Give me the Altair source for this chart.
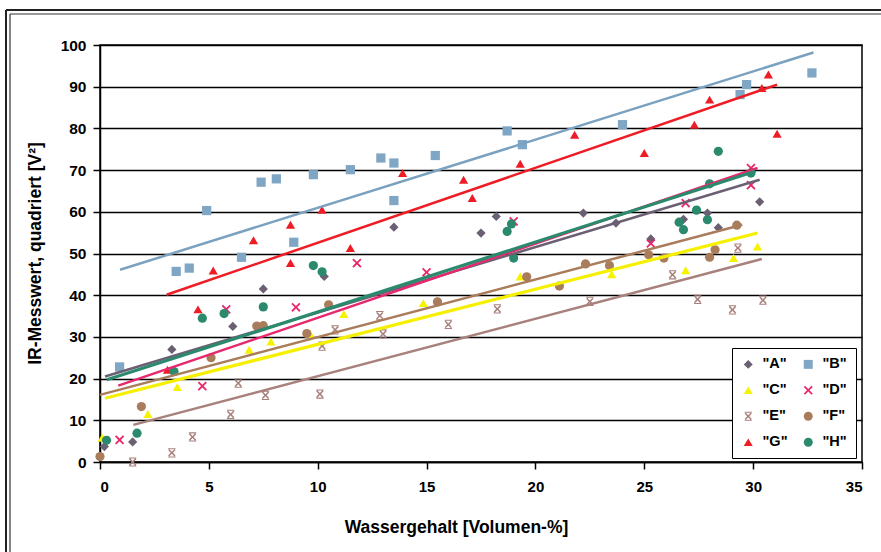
import altair as alt
import pandas as pd

# ---- data ----
series = ['"A"', '"B"', '"C"', '"D"', '"E"', '"F"', '"G"', '"H"']
colors = ["#6b5f73", "#7fa6c4", "#f7f300", "#e8286e", "#a8807c", "#a97c5b", "#ee1c25", "#2b8a6e"]
line_colors = ["#6b5f73", "#7aa2c0", "#f5f000", "#e8286e", "#a8807c", "#a97c5b", "#ee1c25", "#2b8a6e"]

X_PATH = "M-1,-0.72L-0.72,-1L0,-0.28L0.72,-1L1,-0.72L0.28,0L1,0.72L0.72,1L0,0.28L-0.72,1L-1,0.72L-0.28,0Z"
STAR_PATH = ("M-0.8,-0.6L-0.55,-0.8L0,-0.22L0.55,-0.8L0.8,-0.6L0.25,0L0.8,0.6L0.55,0.8L0,0.22L-0.55,0.8L-0.8,0.6L-0.25,0Z"
             "M-0.8,-1L0.8,-1L0.8,-0.78L-0.8,-0.78Z M-0.8,0.78L0.8,0.78L0.8,1L-0.8,1Z")
shapes = ["diamond", "square", "triangle-up", X_PATH, STAR_PATH, "circle", "triangle-up", "circle"]

A_x = [0.2, 1.5, 3.3, 6.1, 7.5, 10.3, 13.5, 17.5, 18.2, 22.2, 23.7, 25.3, 26.8, 27.9, 28.4, 30.3]
A_y = [3.7, 4.8, 27.0, 32.5, 41.5, 44.5, 56.3, 54.9, 58.9, 59.7, 57.3, 53.5, 58.2, 59.7, 56.2, 62.4]

B_x = [0.9, 3.5, 4.1, 4.9, 6.5, 7.4, 8.1, 8.9, 9.8, 11.5, 12.9, 13.5, 13.5, 15.4, 18.7, 19.4, 24.0, 29.4, 29.7, 32.7]
B_y = [22.8, 45.7, 46.5, 60.3, 49.1, 67.1, 67.9, 52.7, 68.9, 70.1, 72.9, 71.7, 62.7, 73.5, 79.4, 76.1, 80.9, 88.1, 90.5, 93.3]

C_x = [0.1, 2.2, 3.55, 6.85, 7.85, 9.65, 11.2, 14.85, 19.3, 23.5, 26.9, 29.1, 30.2]
C_y = [5.8, 11.5, 18.0, 26.9, 28.9, 30.7, 35.5, 38.1, 44.5, 45.0, 46.0, 48.9, 51.7]

D_x = [0.9, 4.7, 5.8, 9.0, 11.8, 15.0, 19.0, 25.3, 26.9, 29.9, 29.9]
D_y = [5.3, 18.2, 36.6, 37.1, 47.7, 45.5, 57.7, 52.4, 62.1, 66.4, 70.5]

E_x = [1.5, 3.3, 4.25, 6.0, 6.35, 7.6, 10.1, 10.2, 10.8, 12.85, 13.0, 16.0, 18.25, 22.5, 26.3, 27.45, 29.05, 29.3, 30.45]
E_y = [0.0, 2.2, 6.0, 11.4, 18.9, 16.0, 16.3, 27.8, 31.7, 35.1, 30.7, 33.0, 36.7, 38.5, 44.9, 39.0, 36.5, 51.3, 38.8]

F_x = [0.0, 1.9, 5.1, 7.2, 7.5, 9.5, 10.5, 15.5, 19.6, 21.1, 22.3, 23.4, 25.2, 25.9, 28.0, 28.25, 29.25]
F_y = [1.3, 13.3, 25.0, 32.6, 32.7, 30.8, 37.7, 38.4, 44.4, 42.2, 47.5, 47.1, 49.7, 48.9, 49.1, 50.9, 56.8]

G_x = [3.1, 4.5, 5.2, 7.05, 8.75, 8.75, 10.2, 11.5, 13.9, 16.7, 17.1, 19.3, 21.8, 25.0, 27.3, 28.0, 30.4, 30.7, 31.1]
G_y = [22.1, 36.6, 45.9, 53.2, 56.9, 47.7, 60.5, 51.3, 69.3, 67.7, 63.3, 71.5, 78.5, 74.1, 80.9, 86.9, 89.7, 92.9, 78.7]

H_x = [0.3, 1.7, 3.4, 4.7, 5.7, 7.5, 9.8, 10.2, 18.7, 18.9, 19.0, 26.6, 26.8, 27.4, 27.9, 28.0, 28.4, 29.9]
H_y = [5.2, 6.9, 21.7, 34.5, 35.6, 37.2, 47.1, 45.6, 55.3, 57.1, 48.9, 57.5, 55.7, 60.4, 58.1, 66.7, 74.5, 69.3]

# trend line end points (start x, start y, end x, end y)
trend_x0 = [0.23, 0.92, 0.23, 0.84, 1.53, 0.0, 3.06, 0.31]
trend_y0 = [20.5, 46.1, 15.3, 18.3, 8.9, 16.1, 40.1, 19.7]
trend_x1 = [30.3, 32.77, 30.2, 30.2, 30.4, 29.5, 31.1, 30.1]
trend_y1 = [67.7, 98.2, 54.9, 70.5, 48.7, 56.9, 90.5, 69.7]
trend_width = [2.5, 2.5, 3.2, 2.5, 2.5, 2.5, 2.5, 3.2]

xs = [A_x, B_x, C_x, D_x, E_x, F_x, G_x, H_x]
ys = [A_y, B_y, C_y, D_y, E_y, F_y, G_y, H_y]

rows = []
for s, xl, yl in zip(series, xs, ys):
    for xv, yv in zip(xl, yl):
        rows.append({"series": s, "x": xv, "y": yv})
pts = pd.DataFrame(rows)

trows = []
for i, s in enumerate(series):
    trows.append({"tseries": s, "x": trend_x0[i], "y": trend_y0[i], "order": 0, "w": trend_width[i]})
    trows.append({"tseries": s, "x": trend_x1[i], "y": trend_y1[i], "order": 1, "w": trend_width[i]})
trend = pd.DataFrame(trows)

# legend is filled column by column: order the domain so it reads A B / C D / E F / G H
legend_order = [0, 2, 4, 6, 1, 3, 5, 7]
dom = [series[i] for i in legend_order]
dom_colors = [colors[i] for i in legend_order]
dom_shapes = [shapes[i] for i in legend_order]

FONT = "Liberation Sans"

xscale = alt.Scale(domain=[0, 35], nice=False, zero=False)
yscale = alt.Scale(domain=[0, 100], nice=False)

xaxis = alt.Axis(values=list(range(0, 36, 5)), title="Wassergehalt [Volumen-%]", grid=False,
                 tickSize=7, tickColor="black", tickWidth=1.5, domainColor="black", domainWidth=1.5,
                 labelFont=FONT, labelFontSize=15, labelFontWeight="bold", labelColor="black", labelPadding=10,
                 titleFont=FONT, titleFontSize=17.5, titleFontWeight="bold", titleColor="black",
                 titleX=356, titleY=65, titleBaseline="middle")
yaxis = alt.Axis(values=list(range(0, 101, 10)), title="IR-Messwert, quadriert [V²]", grid=True,
                 gridColor="black", gridWidth=1.5, gridOpacity=1,
                 tickSize=7, tickColor="black", tickWidth=1.5, domainColor="black", domainWidth=1.5,
                 labelFont=FONT, labelFontSize=15.5, labelFontWeight="bold", labelColor="black", labelPadding=7,
                 titleFont=FONT, titleFontSize=17.5, titleFontWeight="bold", titleColor="black",
                 titleX=-65, titleY=208, titleAngle=-90, titleBaseline="middle", titleAlign="center")

legend = alt.Legend(orient="none", legendX=632, legendY=303, columns=2, title=None,
                    strokeColor="black", fillColor="white", padding=9,
                    labelFont=FONT, labelFontSize=14.5, labelFontWeight="bold",
                    labelColor="black", symbolSize=80, rowPadding=11,
                    columnPadding=13, symbolStrokeWidth=0, labelOffset=7)

# decorative double frame (top and left edges only; the others lie outside the picture)
frame_df = pd.DataFrame({"k": [0]})
frame_top_o = alt.Chart(frame_df).mark_rule(stroke="#222", strokeWidth=2).encode(
    x=alt.value(-94), x2=alt.value(800), y=alt.value(-35), y2=alt.value(-35))
frame_left_o = alt.Chart(frame_df).mark_rule(stroke="#222", strokeWidth=2).encode(
    x=alt.value(-94), x2=alt.value(-94), y=alt.value(-35), y2=alt.value(520))
frame_top_i = alt.Chart(frame_df).mark_rule(stroke="#333", strokeWidth=1.2).encode(
    x=alt.value(-90), x2=alt.value(800), y=alt.value(-31), y2=alt.value(-31))
frame_left_i = alt.Chart(frame_df).mark_rule(stroke="#333", strokeWidth=1.2).encode(
    x=alt.value(-90), x2=alt.value(-90), y=alt.value(-31), y2=alt.value(520))

points = alt.Chart(pts).mark_point(filled=True, opacity=1, size=85, strokeWidth=0).encode(
    x=alt.X("x:Q", scale=xscale, axis=xaxis),
    y=alt.Y("y:Q", scale=yscale, axis=yaxis),
    color=alt.Color("series:N", scale=alt.Scale(domain=dom, range=dom_colors), legend=legend),
    shape=alt.Shape("series:N", scale=alt.Scale(domain=dom, range=dom_shapes), legend=legend),
)

lines = alt.Chart(trend).mark_line().encode(
    x=alt.X("x:Q", scale=xscale),
    y=alt.Y("y:Q", scale=yscale),
    stroke=alt.Stroke("tseries:N", scale=alt.Scale(domain=series, range=line_colors), legend=None),
    strokeWidth=alt.StrokeWidth("w:Q", scale=None, legend=None),
    order="order:Q",
)

chart = alt.layer(frame_top_o, frame_left_o, frame_top_i, frame_left_i, points, lines).properties(
    width=762, height=417,
    autosize=alt.AutoSizeParams(type="none"),
    padding={"left": 100, "top": 45, "right": 19, "bottom": 90},
    background="white",
).configure_view(stroke="black", strokeWidth=1.5)

chart.save("out.html", embed_options={"renderer": "svg", "actions": False})
